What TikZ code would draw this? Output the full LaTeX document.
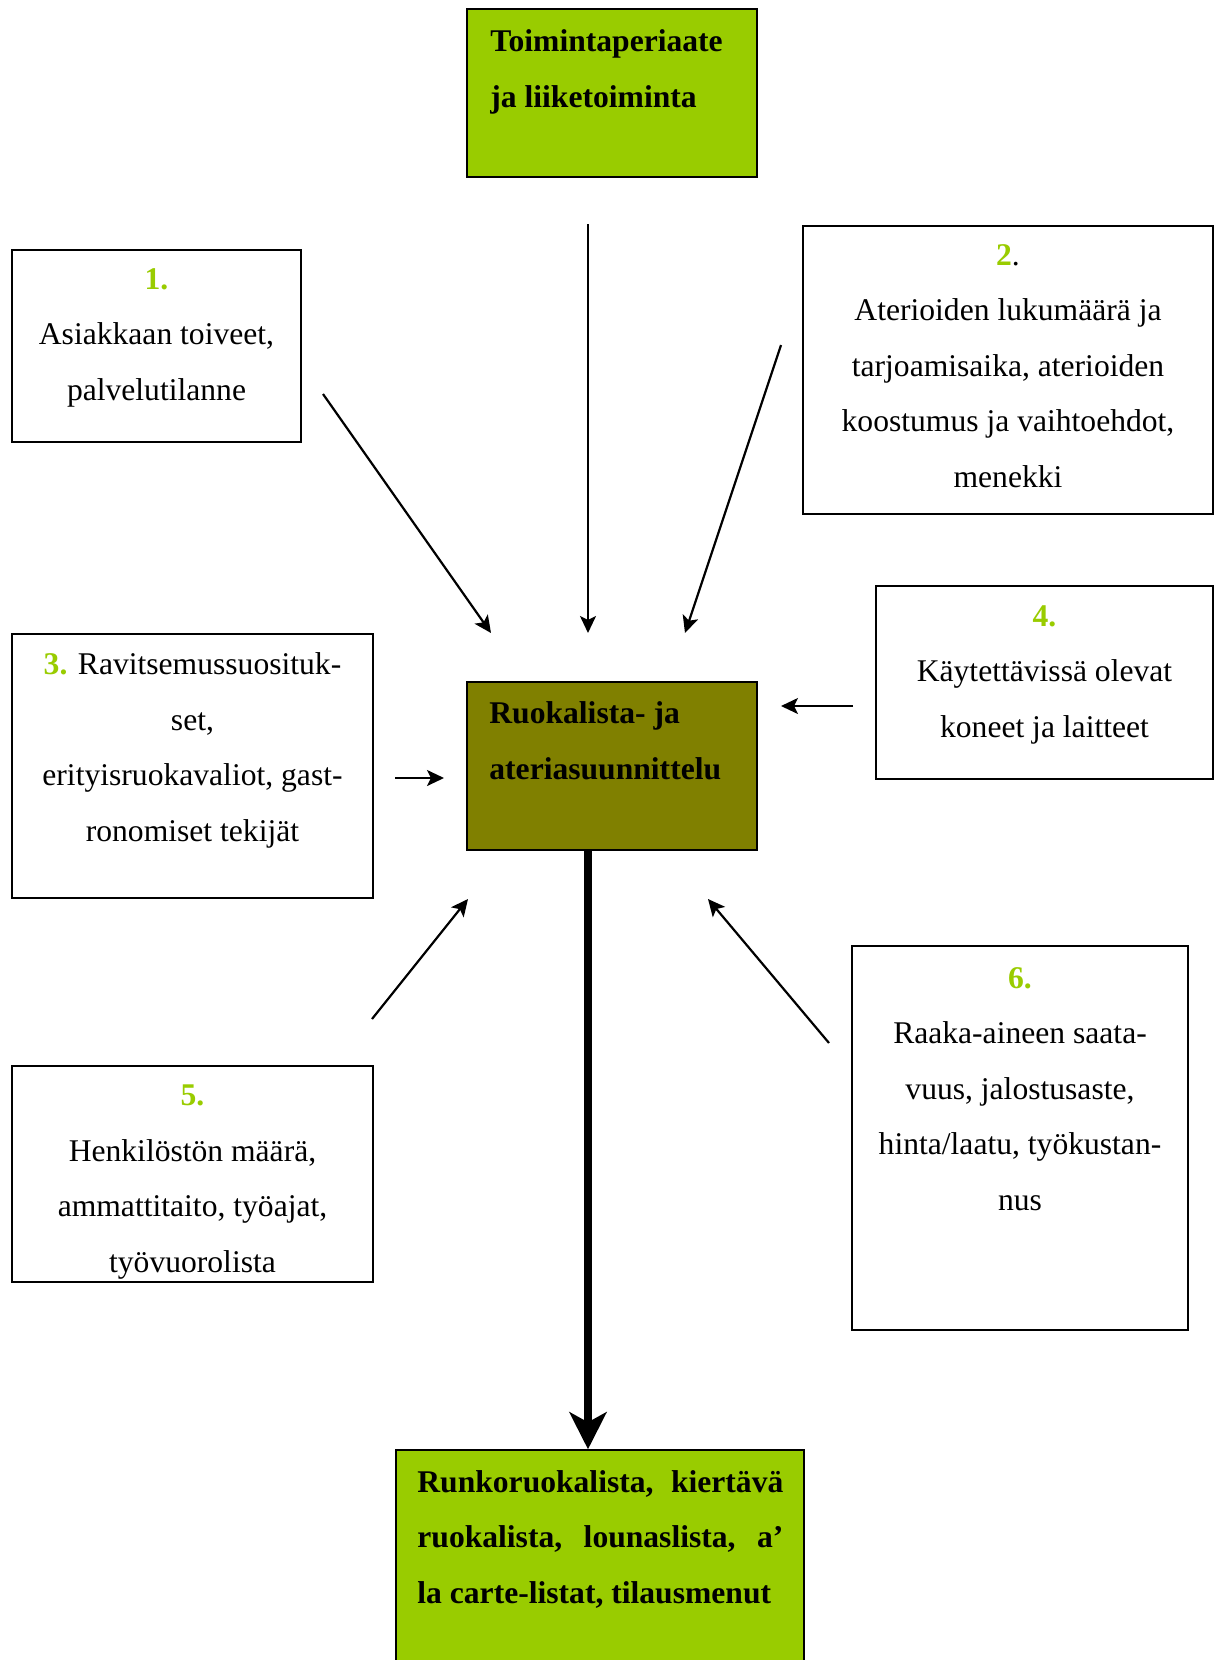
\documentclass[tikz,border=0pt]{standalone}
\usepackage{fontspec}
\setmainfont{Liberation Serif}
\usetikzlibrary{arrows.meta,fit}
\definecolor{numgreen}{HTML}{99CC00}
\definecolor{boxgreen}{HTML}{99CC00}
\definecolor{boxolive}{HTML}{808000}
\newcommand{\numlab}[1]{\textcolor{numgreen}{\textbf{#1}}}
\begin{document}
\begin{tikzpicture}[x=0.5pt,y=-0.5pt,
  box/.style={draw=black, line width=0.75pt, inner sep=0pt},
  txt/.style={inner sep=0pt, align=center, font=\fontsize{15.8pt}{27.75pt}\selectfont},
  btxt/.style={inner sep=0pt, align=left, font=\fontsize{15.8pt}{27.75pt}\selectfont\bfseries},
  thinarrow/.style={line width=1.1pt, -{Stealth[length=8.5pt,width=8pt,inset=2pt]}},
  thickarrow/.style={line width=4pt, -{Stealth[length=18.5pt,width=18.5pt,inset=5pt]}}]
\useasboundingbox (0,0) rectangle (1219,1660);
\fill[white] (0,0) rectangle (1219,1660);

% boxes
\node[box, fill=boxgreen, fit={(467,9) (757,177)}] (top) {};
\node[box, fit={(12,250) (301,442)}] (b1) {};
\node[box, fit={(803,226) (1213,514)}] (b2) {};
\node[box, fit={(12,634) (373,898)}] (b3) {};
\node[box, fit={(876,586) (1213,779)}] (b4) {};
\node[box, fill=boxolive, fit={(467,682) (757,850)}] (mid) {};
\node[box, fit={(12,1066) (373,1282)}] (b5) {};
\node[box, fit={(852,946) (1188,1330)}] (b6) {};
\node[box, fill=boxgreen, fit={(396,1450) (804,1720)}] (out) {};

% texts (anchor = baseline of the last line)
\node[btxt, anchor=base west] (ttop) at (490,107) {Toimintaperiaate\\ja liiketoiminta};
\node[btxt, anchor=base west] (tmid) at (489,779) {Ruokalista- ja\\ateriasuunnittelu};
\node[btxt, anchor=base west] (tout) at (417,1603)
  {\hbox to 183pt{Runkoruokalista,\hfill kiertävä}\\
   \hbox to 183pt{ruokalista,\hfill lounaslista,\hfill a’}\\
   la carte-listat, tilausmenut};
\node[txt, anchor=base] (t1) at (156.5,400) {\numlab{1.}\\Asiakkaan toiveet,\\palvelutilanne};
\node[txt, anchor=base] (t2) at (1008,487) {\numlab{2}.\\Aterioiden lukumäärä ja\\tarjoamisaika, aterioiden\\koostumus ja vaihtoehdot,\\menekki};
\node[txt, anchor=base] (t3) at (192.5,841) {\numlab{3.} Ravitsemussuosituk-\\set,\\erityisruokavaliot, gast-\\ronomiset tekijät};
\node[txt, anchor=base] (t4) at (1044.5,737) {\numlab{4.}\\Käytettävissä olevat\\koneet ja laitteet};
\node[txt, anchor=base] (t5) at (192.5,1272) {\numlab{5.}\\Henkilöstön määrä,\\ammattitaito, työajat,\\työvuorolista};
\node[txt, anchor=base] (t6) at (1020,1210) {\numlab{6.}\\Raaka-aineen saata-\\vuus, jalostusaste,\\hinta/laatu, työkustan-\\nus};

% arrow end points
\coordinate (a0s) at (588,224);  \coordinate (a0e) at (588,633);
\coordinate (a1s) at (323,394);  \coordinate (a1e) at (491,633);
\coordinate (a2s) at (781,345);  \coordinate (a2e) at (685,633);
\coordinate (a3s) at (395,778);  \coordinate (a3e) at (444,778);
\coordinate (a4s) at (853,706);  \coordinate (a4e) at (781,706);
\coordinate (a5s) at (372,1019); \coordinate (a5e) at (468,899);
\coordinate (a6s) at (829,1043); \coordinate (a6e) at (708,899);

\draw[thinarrow] (a0s) -- (a0e);
\draw[thinarrow] (a1s) -- (a1e);
\draw[thinarrow] (a2s) -- (a2e);
\draw[thinarrow] (a3s) -- (a3e);
\draw[thinarrow] (a4s) -- (a4e);
\draw[thinarrow] (a5s) -- (a5e);
\draw[thinarrow] (a6s) -- (a6e);
\draw[thickarrow] (mid.south -| a0s) -- (out.north -| a0s);
\end{tikzpicture}
\end{document}
